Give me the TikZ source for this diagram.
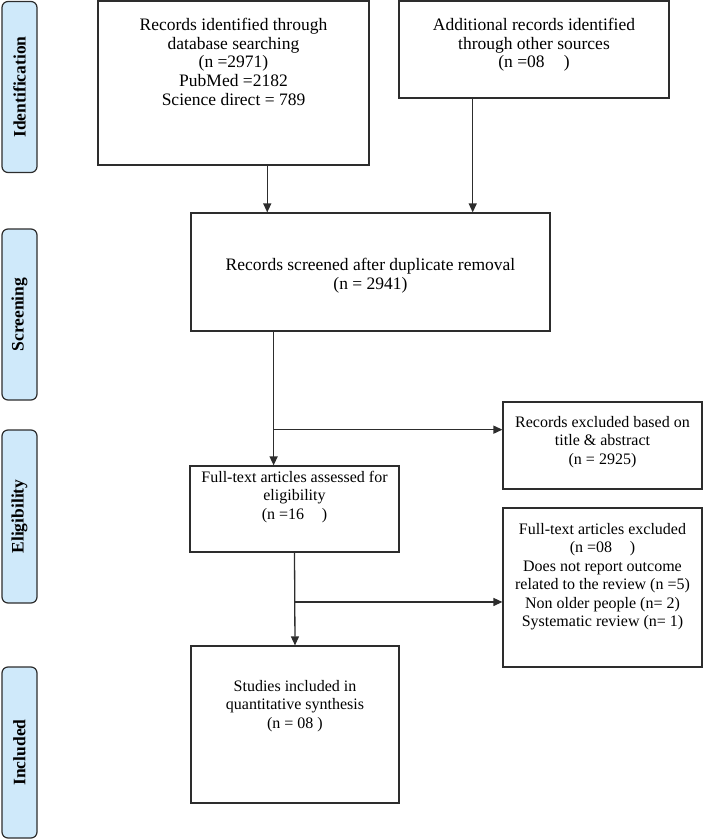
\documentclass[tikz,border=0pt]{standalone}
\usepackage{fontspec}
\setmainfont{Liberation Serif}
\usetikzlibrary{arrows.meta,calc}

\definecolor{stagefill}{RGB}{207,233,250}
\definecolor{lineclr}{RGB}{45,45,45}

\begin{document}
\begin{tikzpicture}[x=1pt,y=-1pt,
    txt/.style={draw=none,fill=none,align=center,inner sep=0pt,text=black,
      font=\fontsize{17.5}{18.8}\selectfont},
    txtsm/.style={txt,font=\fontsize{16}{18.5}\selectfont},
    arr/.style={-{Triangle[length=9pt,width=8pt]},draw=lineclr,line width=1.3pt}]

    \useasboundingbox (0,0) rectangle (714,840);

        % stage bars on the left
        \begin{scope}[every node/.style={draw=lineclr,line width=1.2pt,rounded corners=6pt,fill=stagefill,
            minimum height=35pt,rotate=90,inner sep=0pt,font=\fontsize{17.5}{19}\selectfont\bfseries}]
            \node[minimum width=171pt] (ident) at (19.5,87) {Identification};
            \node[minimum width=171pt] (screen) at (19.5,314.5) {Screening};
            \node[minimum width=173pt] (elig) at (19.5,516.5) {Eligibility};
            \node[minimum width=171pt] (incl) at (19.5,752.5) {Included};
        \end{scope}

        % boxes
        \begin{scope}[every node/.style={draw=lineclr,line width=1.2pt,inner sep=0pt}]
            \node[minimum width=271pt,minimum height=164pt,
              label={[txt,anchor=north,yshift=-17pt]north:{Records identified through\\database searching\\(n =2971)\\PubMed =2182\\Science direct = 789}}] (rec1) at (233.5,83) {};
            \node[minimum width=270pt,minimum height=97pt,
              label={[txt,anchor=north,yshift=-17pt]north:{Additional records identified\\through other sources\\(n =08\hspace{1.1em})}}] (rec2) at (534,49.5) {};
            \node[minimum width=359pt,minimum height=118pt,
              label={[txt,anchor=north,yshift=-45pt]north:{Records screened after duplicate removal\\(n = 2941)}}] (scr) at (370.5,272) {};
            \node[minimum width=199pt,minimum height=87pt,
              label={[txtsm,anchor=north,yshift=-14pt]north:{Records excluded based on\\title \& abstract\\(n = 2925)}}] (recex) at (602.5,445.5) {};
            \node[minimum width=209pt,minimum height=86pt,
              label={[txtsm,anchor=north,yshift=-5pt]north:{Full-text articles assessed for\\eligibility\\(n =16\hspace{1.1em})}}] (full) at (294.5,509) {};
            \node[minimum width=199pt,minimum height=159pt,
              label={[txtsm,anchor=north,yshift=-15pt]north:{Full-text articles excluded\\(n =08\hspace{1.1em})\\Does not report outcome\\related to the review (n =5)\\Non older people (n= 2)\\Systematic review (n= 1)}}] (ftex) at (602.5,587.5) {};
            \node[minimum width=208pt,minimum height=157pt,
              label={[txtsm,anchor=north,yshift=-34pt]north:{Studies included in\\quantitative synthesis\\(n = 08 )}}] (study) at (295,724.5) {};
        \end{scope}

        % connectors
        \draw[arr] ($(rec1.south west)!0.624!(rec1.south east)$) coordinate (a1) -- (a1 |- scr.north);
        \draw[arr] ($(rec2.south west)!0.274!(rec2.south east)$) coordinate (a2) -- (a2 |- scr.north);
        \draw[arr] ($(scr.south west)!0.231!(scr.south east)$) coordinate (a3) -- (a3 |- full.north);
        \draw[arr] ($(a3)!0.733!(a3 |- full.north)$) coordinate (b1) -- (b1 -| recex.west);
        \draw[arr] (full.south) -- (study.north);
        \draw[arr] ($(full.south)!0.532!(study.north)$) coordinate (b2) -- (b2 -| ftex.west);

    \end{tikzpicture}
\end{document}
